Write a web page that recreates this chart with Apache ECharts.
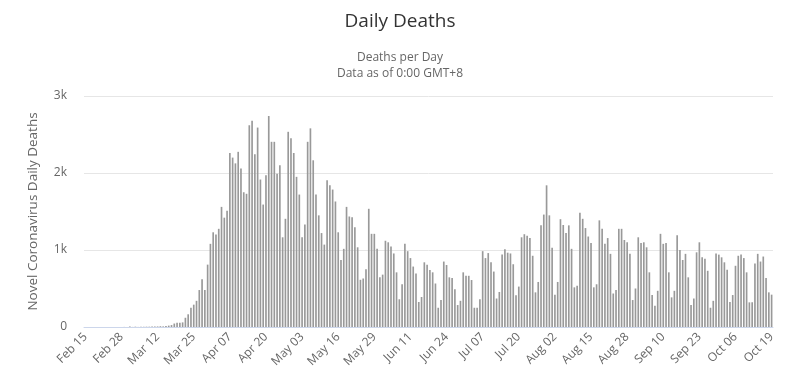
<!DOCTYPE html>
<html>
<head>
<meta charset="utf-8">
<script src="https://cdn.jsdelivr.net/npm/echarts@6/dist/echarts.min.js"></script>
<style>
html,body{margin:0;padding:0;background:#fff;}
#chart{width:800px;height:391px;}
</style>
</head>
<body>
<div id="chart"></div>
<script>
// Start date and number of days (categories built from these)
const startDate = '2020-02-15';
const dayCount = 248;
const monthNames = ['Jan','Feb','Mar','Apr','May','Jun','Jul','Aug','Sep','Oct','Nov','Dec'];

// Daily deaths
const dailyDeaths = [
  0,0,0,0,0,0,0,0,0,0,
  0,0,0,0,1,1,5,1,4,1,
  2,3,4,4,5,8,7,10,8,12,
  18,25,45,55,55,60,120,165,250,290,
  340,480,620,480,810,1080,1230,1200,1275,1560,
  1420,1510,2260,2200,2125,2275,2060,1750,1730,2620,
  2680,2245,2590,1915,1590,1970,2740,2405,2405,1990,
  2100,1165,1405,2535,2450,2260,1950,1720,1165,1330,
  2405,2580,2165,1720,1450,1220,1070,1905,1840,1785,
  1630,1230,870,1015,1560,1435,1425,1295,1035,613,
  630,750,1535,1210,1210,1015,645,680,1120,1100,
  1045,955,710,360,555,1080,985,895,785,695,
  325,390,840,810,740,710,565,250,350,850,
  805,645,635,490,285,340,710,665,665,610,
  250,250,360,985,895,960,840,720,370,455,
  940,1010,965,955,815,412,525,1165,1205,1185,
  1155,925,450,585,1320,1460,1840,1450,1030,420,
  585,1400,1325,1220,1320,1015,515,535,1485,1405,
  1285,1175,1090,515,555,1385,1275,1080,1155,950,
  435,480,1275,1275,1130,1100,950,350,500,1165,
  1090,1100,1035,710,415,275,470,1210,1080,1090,
  710,385,470,1190,1000,870,950,645,285,370,
  970,1100,905,885,730,250,340,955,940,905,
  840,745,325,415,795,925,940,895,710,320,
  320,825,950,850,915,635,450,420
];

const yTicks = [0, 1000, 2000, 3000];

// Build category labels (Mon DD) from the start date
const categories = [];
const t0 = Date.parse(startDate + 'T00:00:00Z');
for (let i = 0; i < dayCount; i++) {
  const d = new Date(t0 + i * 86400000);
  const dd = String(d.getUTCDate()).padStart(2, '0');
  categories.push(monthNames[d.getUTCMonth()] + ' ' + dd);
}

const chart = echarts.init(document.getElementById('chart'), null, {renderer: 'canvas'});
const font = "'Open Sans', 'DejaVu Sans', sans-serif";
chart.setOption({
  animation: false,
  backgroundColor: '#ffffff',
  title: [
    {
      text: 'Daily Deaths',
      left: 'center',
      top: 7,
      textStyle: {fontFamily: font, fontSize: 19, fontWeight: 'normal', color: '#333333'}
    },
    {
      text: 'Deaths per Day\nData as of 0:00 GMT+8',
      left: 'center',
      top: 45,
      textStyle: {fontFamily: font, fontSize: 12, fontWeight: 'normal', color: '#666666', lineHeight: 16, align: 'center'}
    }
  ],
  grid: {left: 84, right: 27, top: 96, bottom: 64, containLabel: false},
  xAxis: {
    type: 'category',
    data: categories,
    boundaryGap: true,
    axisLine: {show: true, lineStyle: {color: '#ccd6eb', width: 1}},
    axisTick: {show: false},
    axisLabel: {
      interval: 12,
      rotate: 45,
      fontFamily: font,
      fontSize: 12,
      color: '#666666',
      margin: 8
    },
    splitLine: {show: false}
  },
  yAxis: {
    type: 'value',
    min: yTicks[0],
    max: yTicks[yTicks.length - 1],
    interval: 1000,
    name: 'Novel Coronavirus Daily Deaths',
    nameLocation: 'middle',
    nameGap: 44,
    nameTextStyle: {fontFamily: font, fontSize: 13.5, color: '#666666'},
    axisLine: {show: false},
    axisTick: {show: false},
    axisLabel: {
      fontFamily: font,
      fontSize: 12,
      color: '#666666',
      margin: 17,
      formatter: function (v) { return v === 0 ? '0' : (v / 1000) + 'k'; }
    },
    splitLine: {lineStyle: {color: '#e6e6e6', width: 1}}
  },
  series: [{
    type: 'bar',
    data: dailyDeaths,
    barCategoryGap: '40%',
    itemStyle: {color: '#999999'}
  }]
});
</script>
</body>
</html>
